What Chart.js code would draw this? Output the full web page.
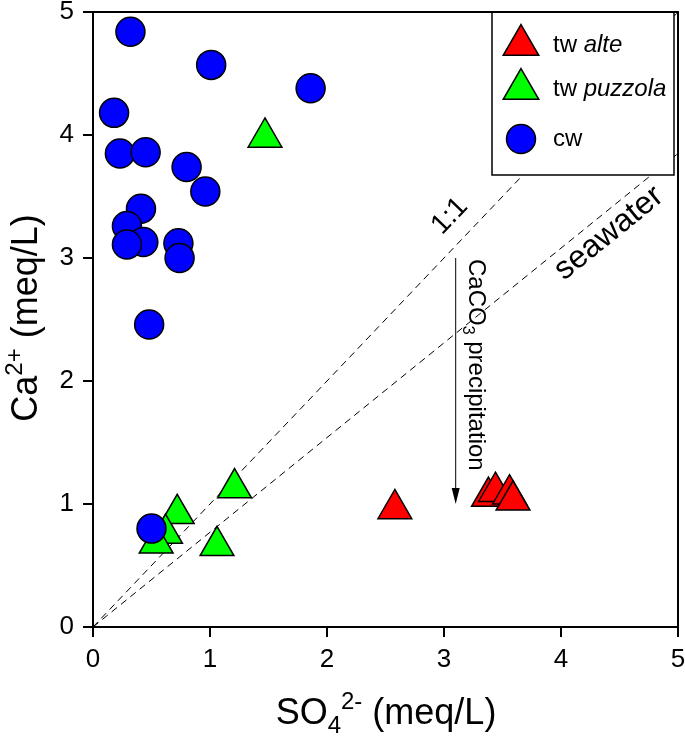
<!DOCTYPE html>
<html>
<head>
<meta charset="utf-8">
<script src="https://cdn.jsdelivr.net/npm/chart.js@4.4.0/dist/chart.umd.min.js"></script>
<style>
  html, body { margin: 0; padding: 0; background: #fff; }
  #wrap { width: 685px; height: 738px; position: relative; }
</style>
</head>
<body>
<div id="wrap"><canvas id="chart"></canvas></div>
<script>
// tw alte (red triangles)
const alteX = [2.58, 3.38, 3.44, 3.56, 3.59];
const alteY = [0.96, 1.06, 1.10, 1.08, 1.03];
// tw puzzola (green triangles)
const puzzolaX = [1.47, 1.21, 0.72, 1.06, 0.62, 0.54];
const puzzolaY = [3.98, 1.13, 0.92, 0.66, 0.76, 0.68];
// cw (blue circles)
const cwX = [0.32, 1.01, 1.86, 0.18, 0.23, 0.45, 0.80, 0.96, 0.41, 0.29, 0.43, 0.29, 0.73, 0.74, 0.48, 0.50];
const cwY = [4.84, 4.57, 4.38, 4.18, 3.85, 3.86, 3.74, 3.54, 3.40, 3.26, 3.13, 3.11, 3.12, 3.00, 2.46, 0.80];
// reference lines through the origin
const lineNames = ['1:1', 'seawater'];
const lineSlopes = [1, 0.77];
const lineEndX = [5, 5];
// arrow: CaCO3 precipitation
const arrowX = 3.1;
const arrowFromY = 3.0;
const arrowToY = 1.0;
const axisMin = 0;
const axisMax = 5;

const FONT = '"Liberation Sans", Arial, sans-serif';

function toPoints(xs, ys) {
  return xs.map((x, i) => ({ x: x, y: ys[i] }));
}

// draws a row of text pieces (normal / sub / sup / italic)
function richWidth(ctx, parts) {
  let w = 0;
  parts.forEach(p => {
    ctx.font = (p.italic ? 'italic ' : '') + p.size + 'px ' + FONT;
    w += ctx.measureText(p.t).width;
  });
  return w;
}
function drawRich(ctx, parts, x, y, align) {
  let cx = x;
  if (align === 'center') cx = x - richWidth(ctx, parts) / 2;
  parts.forEach(p => {
    ctx.font = (p.italic ? 'italic ' : '') + p.size + 'px ' + FONT;
    ctx.fillText(p.t, cx, y + (p.dy || 0));
    cx += ctx.measureText(p.t).width;
  });
}

const legendItems = [
  { style: 'triangle', color: '#ff0000', parts: [{ t: 'tw ', size: 24 }, { t: 'alte', size: 24, italic: true }] },
  { style: 'triangle', color: '#00ff00', parts: [{ t: 'tw ', size: 24 }, { t: 'puzzola', size: 24, italic: true }] },
  { style: 'circle', color: '#0000ff', parts: [{ t: 'cw', size: 24 }] }
];

const overlay = {
  id: 'overlay',
  afterDatasetsDraw(chart) {
    const ctx = chart.ctx;
    const xs = chart.scales.x;
    const ys = chart.scales.y;
    const area = chart.chartArea;
    ctx.save();
    ctx.fillStyle = '#000';
    ctx.strokeStyle = '#000';
    ctx.textBaseline = 'alphabetic';

    // arrow
    const ax = xs.getPixelForValue(arrowX);
    const ay0 = ys.getPixelForValue(arrowFromY);
    const ay1 = ys.getPixelForValue(arrowToY);
    ctx.lineWidth = 1;
    ctx.beginPath();
    ctx.moveTo(ax, ay0);
    ctx.lineTo(ax, ay1 - 12);
    ctx.stroke();
    ctx.beginPath();
    ctx.moveTo(ax, ay1);
    ctx.lineTo(ax - 4, ay1 - 16);
    ctx.lineTo(ax + 4, ay1 - 16);
    ctx.closePath();
    ctx.fill();

    // CaCO3 precipitation (reads downward)
    ctx.save();
    ctx.translate(ax + 13, ay0 + 1);
    ctx.rotate(Math.PI / 2);
    drawRich(ctx, [
      { t: 'CaCO', size: 24 },
      { t: '3', size: 16, dy: 6 },
      { t: ' precipitation', size: 24 }
    ], 0, 0, 'left');
    ctx.restore();

    // reference line labels
    const labelPos = [[3.05, 3.34], [4.41, 3.20]];
    const labelSize = [28, 32];
    lineNames.forEach((name, i) => {
      const ang = Math.atan2(ys.getPixelForValue(lineSlopes[i]) - ys.getPixelForValue(0),
        xs.getPixelForValue(1) - xs.getPixelForValue(0));
      ctx.save();
      ctx.translate(xs.getPixelForValue(labelPos[i][0]), ys.getPixelForValue(labelPos[i][1]));
      ctx.rotate(ang);
      ctx.textAlign = 'center';
      ctx.textBaseline = 'middle';
      ctx.font = labelSize[i] + 'px ' + FONT;
      ctx.fillText(name, 0, 0);
      ctx.restore();
    });

    // legend box
    const lx = 492, ly = area.top, lw = 182, lh = 163;
    ctx.fillStyle = '#fff';
    ctx.fillRect(lx, ly, lw, lh);
    ctx.lineWidth = 1.5;
    ctx.strokeRect(lx, ly, lw, lh);
    const rowY = [45, 89, 139];
    legendItems.forEach((item, i) => {
      const y = rowY[i];
      ctx.fillStyle = item.color;
      ctx.strokeStyle = '#000';
      ctx.lineWidth = 1.5;
      ctx.beginPath();
      if (item.style === 'triangle') {
        const r = 20.5;
        ctx.moveTo(521, y - r);
        ctx.lineTo(521 + r * Math.sin(2 * Math.PI / 3), y + r / 2);
        ctx.lineTo(521 - r * Math.sin(2 * Math.PI / 3), y + r / 2);
        ctx.closePath();
      } else {
        ctx.arc(521, y, 14.5, 0, Math.PI * 2);
      }
      ctx.fill();
      ctx.stroke();
      ctx.fillStyle = '#000';
      ctx.textBaseline = 'middle';
      drawRich(ctx, item.parts, 553, y, 'left');
    });

    // frame
    ctx.lineWidth = 2;
    ctx.strokeStyle = '#000';
    ctx.strokeRect(area.left, area.top, area.right - area.left, area.bottom - area.top);
    ctx.restore();
  },
  afterDraw(chart) {
    const ctx = chart.ctx;
    ctx.save();
    ctx.fillStyle = '#000';
    ctx.textBaseline = 'alphabetic';
    // x title
    drawRich(ctx, [
      { t: 'SO', size: 36 },
      { t: '4', size: 24, dy: 9 },
      { t: '2-', size: 24, dy: -15 },
      { t: ' (meq/L)', size: 36 }
    ], 386, 724, 'center');
    // y title
    ctx.save();
    ctx.translate(37, 318);
    ctx.rotate(-Math.PI / 2);
    drawRich(ctx, [
      { t: 'Ca', size: 36 },
      { t: '2+', size: 24, dy: -15 },
      { t: ' (meq/L)', size: 36 }
    ], 0, 0, 'center');
    ctx.restore();
    ctx.restore();
  }
};

const lineSets = lineNames.map((name, i) => ({
  label: name,
  data: [{ x: 0, y: 0 }, { x: lineEndX[i], y: lineSlopes[i] * lineEndX[i] }],
  showLine: true,
  borderColor: '#000',
  borderWidth: 1,
  borderDash: [7, 5],
  pointRadius: 0,
  order: 10
}));

new Chart(document.getElementById('chart'), {
  type: 'scatter',
  data: {
    datasets: [
      {
        label: 'tw alte',
        data: toPoints(alteX, alteY),
        pointStyle: 'triangle',
        pointRadius: 19.5,
        backgroundColor: '#ff0000',
        borderColor: '#000',
        borderWidth: 1.5,
        order: 2
      },
      {
        label: 'tw puzzola',
        data: toPoints(puzzolaX, puzzolaY),
        pointStyle: 'triangle',
        pointRadius: 19.5,
        backgroundColor: '#00ff00',
        borderColor: '#000',
        borderWidth: 1.5,
        order: 1
      },
      {
        label: 'cw',
        data: toPoints(cwX, cwY),
        pointStyle: 'circle',
        pointRadius: 14.5,
        backgroundColor: '#0000ff',
        borderColor: '#000',
        borderWidth: 1.5,
        order: 0
      },
      ...lineSets
    ]
  },
  options: {
    responsive: true,
    maintainAspectRatio: false,
    animation: false,
    events: [],
    layout: { autoPadding: false, padding: { top: 12, right: 7, left: 0, bottom: 0 } },
    plugins: { legend: { display: false }, tooltip: { enabled: false } },
    scales: {
      x: {
        type: 'linear',
        min: axisMin,
        max: axisMax,
        ticks: { stepSize: 1, color: '#000', font: { family: FONT, size: 26 }, padding: 7 },
        grid: { drawOnChartArea: false, tickLength: 10, color: '#000', lineWidth: 2 },
        border: { display: true, color: '#000', width: 2 },
        afterFit: (s) => { s.height = 111; s.paddingLeft = 0; s.paddingRight = 0; }
      },
      y: {
        type: 'linear',
        min: axisMin,
        max: axisMax,
        ticks: { stepSize: 1, color: '#000', font: { family: FONT, size: 26 }, padding: 9 },
        grid: { drawOnChartArea: false, tickLength: 10, color: '#000', lineWidth: 2 },
        border: { display: true, color: '#000', width: 2 },
        afterFit: (s) => { s.width = 93; s.paddingTop = 0; s.paddingBottom = 0; }
      }
    }
  },
  plugins: [overlay]
});
</script>
</body>
</html>
